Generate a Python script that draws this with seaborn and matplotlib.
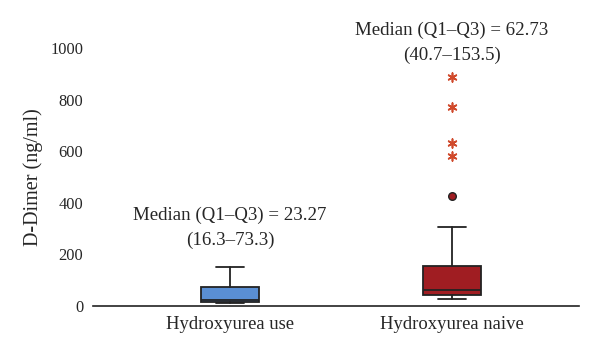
import numpy as np
import pandas as pd
import matplotlib
matplotlib.use("Agg")
import matplotlib.pyplot as plt
import seaborn as sns

# groups and box statistics (ng/ml)
groups = ["Hydroxyurea use", "Hydroxyurea naive"]
medians = [23.27, 62.73]
q1s = [16.3, 40.7]
q3s = [73.3, 153.5]
whislo = [11, 26]
whishi = [152, 306]
box_colors = ["#5a8fd4", "#a01d22"]

# outliers of the naive group
circle_vals = [428]
star_vals = [889, 772, 633, 580]

annot = ["Median (Q1\u2013Q3) = 23.27\n(16.3\u201373.3)",
         "Median (Q1\u2013Q3) = 62.73\n(40.7\u2013153.5)"]
annot_y = [222, 938]

sns.set_style("white")
plt.rcParams['font.family'] = ['Liberation Serif', 'DejaVu Serif']

fig = plt.figure(figsize=(6, 3.58), dpi=100)
ax = fig.add_axes([0.155, 0.1453, 0.81, 0.7206])

stats = []
for i, g in enumerate(groups):
    stats.append(dict(label=g, med=medians[i], q1=q1s[i], q3=q3s[i],
                      whislo=whislo[i], whishi=whishi[i], fliers=[]))
bp = ax.bxp(stats, positions=[0, 1], widths=0.257, patch_artist=True,
            showfliers=False,
            medianprops=dict(color="#222222", lw=1.3),
            whiskerprops=dict(color="#222222", lw=1.3),
            capprops=dict(color="#222222", lw=1.3),
            boxprops=dict(edgecolor="#222222", lw=1.3),
            capwidths=0.125)
for patch, c in zip(bp["boxes"], box_colors):
    patch.set_facecolor(c)

out = pd.DataFrame({"x": [1] * len(circle_vals), "y": circle_vals})
sns.scatterplot(data=out, x="x", y="y", ax=ax, color="#a01d22",
                edgecolor="#222222", linewidth=1, s=30, zorder=3)
stars = pd.DataFrame({"x": [1] * len(star_vals), "y": star_vals})
sns.scatterplot(data=stars, x="x", y="y", ax=ax, color="#d0492b",
                marker=(6, 2, 0), s=40, linewidth=1.2, zorder=3)

for i, t in enumerate(annot):
    ax.text(i, annot_y[i], t, ha="center", va="bottom", fontsize=13.6,
            linespacing=1.55, clip_on=False)

ax.set_xlim(-0.617, 1.572)
ax.set_ylim(0, 1000)
ax.set_yticks([0, 200, 400, 600, 800, 1000])
ax.set_xticks([0, 1])
ax.set_xticklabels(groups)
ax.set_xlabel("")
ax.set_ylabel("D-Dimer (ng/ml)", fontsize=14.5, labelpad=5)
ax.tick_params(axis="both", length=0)
ax.tick_params(axis="y", labelsize=11.8, pad=7)
ax.tick_params(axis="x", labelsize=13.4, pad=7)
for s in ["top", "right", "left"]:
    ax.spines[s].set_visible(False)
ax.spines["bottom"].set_color("#222222")
ax.spines["bottom"].set_linewidth(1.2)

fig.savefig("out.png", dpi=100)
